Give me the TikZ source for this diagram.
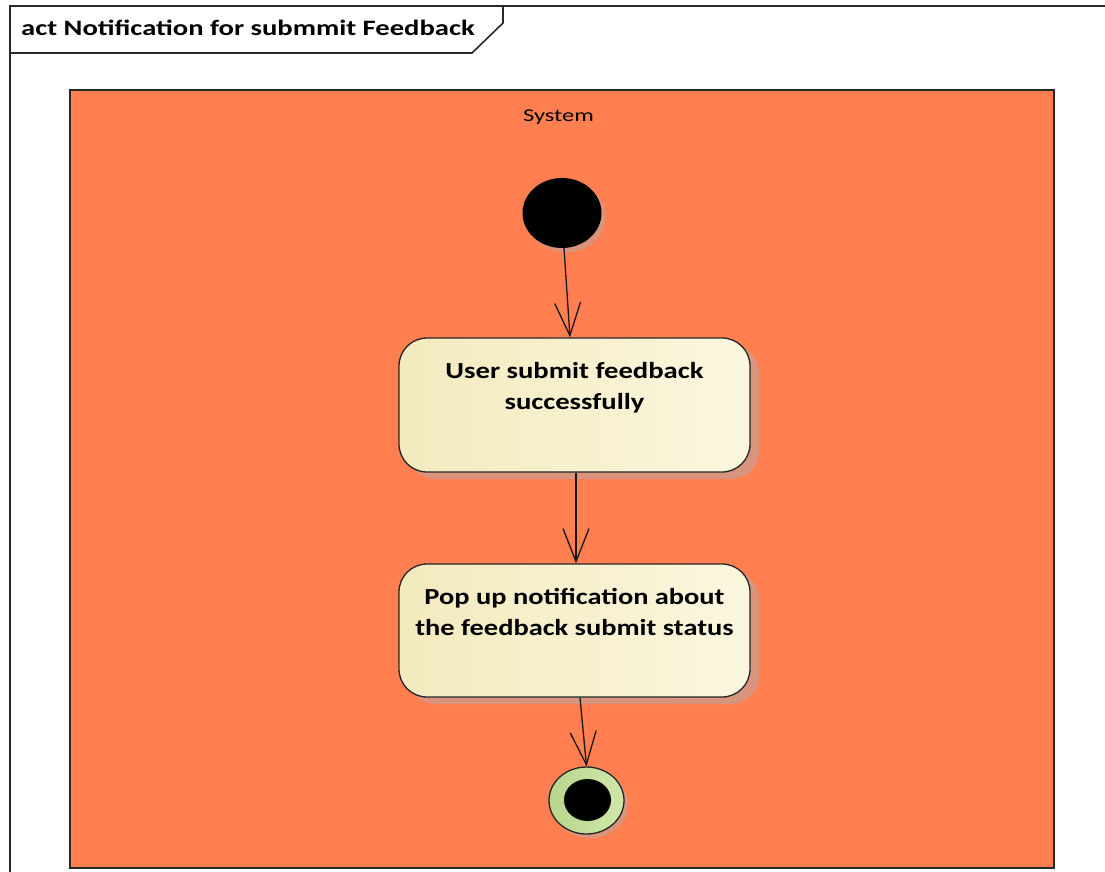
\documentclass[tikz,border=0pt]{standalone}
\usepackage{fontspec}
\setmainfont{Carlito}
\usetikzlibrary{arrows.meta,shapes.geometric}

\definecolor{swimfill}{RGB}{255,127,80}
\definecolor{actleft}{RGB}{243,234,190}
\definecolor{actright}{RGB}{251,247,223}
\definecolor{shade}{RGB}{216,148,124}
\definecolor{frameline}{RGB}{40,40,40}
\definecolor{endleft}{RGB}{184,214,140}
\definecolor{endright}{RGB}{208,230,170}

\newcommand{\wide}[2]{\scalebox{#1}[1]{#2}}

\tikzset{
  frame/.style={draw=frameline, line width=1.6pt},
  swim/.style={draw=frameline, line width=1.4pt, fill=swimfill},
  actbox/.style={rectangle, rounded corners=28pt, draw=black!85, line width=1.3pt,
    left color=actleft, right color=actright, minimum width=351pt, inner sep=0pt},
  actshadow/.style={rectangle, rounded corners=28pt, fill=shade, minimum width=351pt, inner sep=0pt},
  acttext/.style={anchor=north, inner sep=0pt, align=center,
    font=\fontsize{23}{31}\selectfont\bfseries},
  flow/.style={draw=black!90, line width=1.3pt, -{Straight Barb[length=33pt,width=26pt,line width=1.3pt]}},
}

\begin{document}
\begin{tikzpicture}[x=1pt, y=-1pt]
\useasboundingbox (0,0) rectangle (1105,872);
\clip (0,0) rectangle (1105,872);

% diagram frame and name tab
\draw[frame] (10,900) -- (10,6) -- (1120,6);
\draw[frame] (10,53) -- (472,53) -- (503,23) -- (503,6);
\node[anchor=west, inner sep=0pt, font=\fontsize{22}{26}\selectfont\bfseries] (title) at (21,28)
  {\wide{1.30}{act Notification for submmit Feedback}};

% partition
\draw[swim] (70,90) rectangle (1054,868);
\node[inner sep=0pt, font=\fontsize{18}{21}\selectfont] (part) at (558.5,117) {\wide{1.36}{System}};

% initial node
\node[ellipse, fill=shade, minimum width=79pt, minimum height=70pt, inner sep=0pt] (initsh) at (566,217) {};
\node[ellipse, fill=black, minimum width=79pt, minimum height=70pt, inner sep=0pt] (init) at (562,213) {};

% actions
\node[actshadow, minimum height=134pt] (act1sh) at (583.5,412) {};
\node[actbox, minimum height=134pt] (act1) at (574.5,405) {};
\node[acttext] (act1txt) at ([yshift=-19pt]act1.north)
  {\wide{1.245}{\begin{tabular}{@{}c@{}}User submit feedback\\ successfully\end{tabular}}};

\node[actshadow, minimum height=133pt] (act2sh) at (583.5,637.5) {};
\node[actbox, minimum height=133pt] (act2) at (574.5,630.5) {};
\node[acttext] (act2txt) at ([yshift=-19pt]act2.north)
  {\wide{1.235}{\begin{tabular}{@{}c@{}}Pop up notification about\\ the feedback submit status\end{tabular}}};

% final node
\node[ellipse, fill=shade, minimum width=75pt, minimum height=67pt, inner sep=0pt] (finsh) at (590.5,804.5) {};
\node[ellipse, draw=black!85, line width=1.3pt, left color=endleft, right color=endright,
  minimum width=75pt, minimum height=67pt, inner sep=0pt] (fin) at (586.5,800.5) {};
\node[ellipse, fill=black, minimum width=47pt, minimum height=42pt, inner sep=0pt] (finin) at (587.5,800) {};

% control flows
\draw[flow] ([xshift=2pt]init.south) -- ([xshift=-4.5pt]act1.north);
\draw[flow] ([xshift=1.5pt]act1.south) -- ([xshift=1.5pt]act2.north);
\draw[flow] ([xshift=5.5pt]act2.south) -- (fin.north);
\end{tikzpicture}
\end{document}
